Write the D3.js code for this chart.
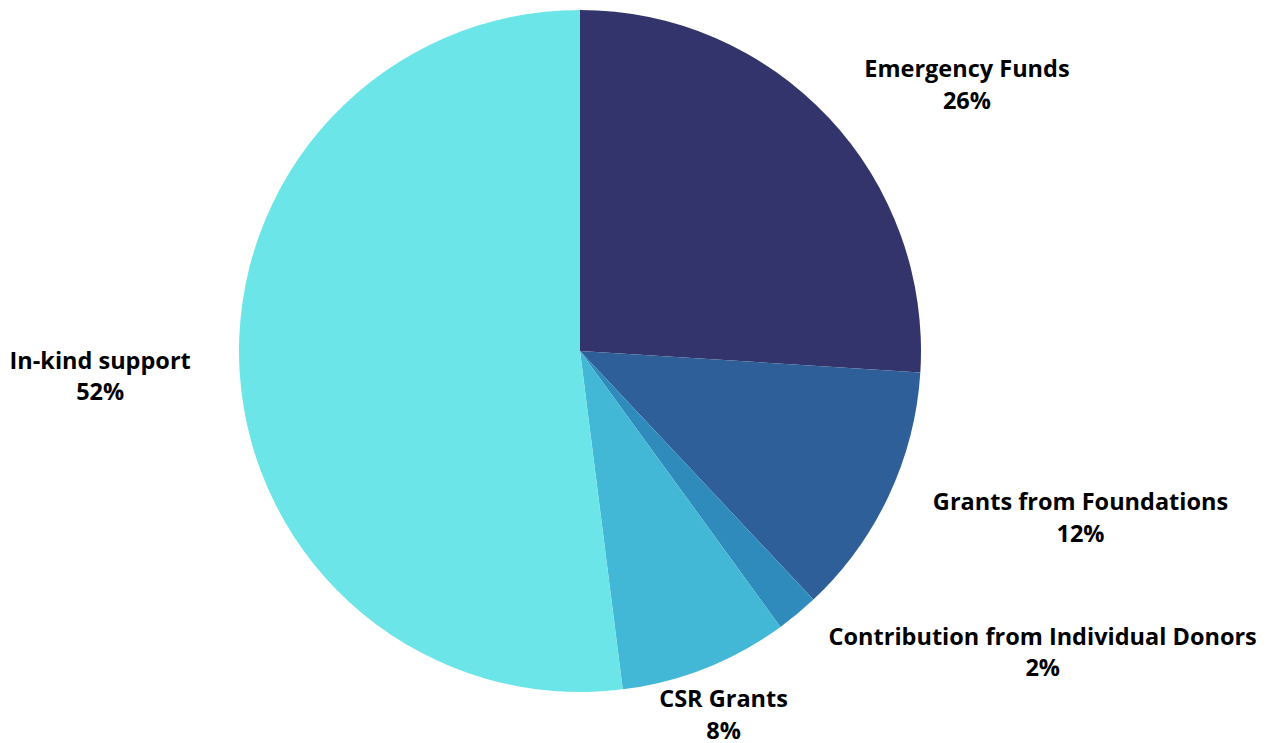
<!DOCTYPE html>
<html>
<head>
<meta charset="utf-8">
<script src="https://cdn.jsdelivr.net/npm/d3@7/dist/d3.min.js"></script>
<style>
  html, body { margin: 0; padding: 0; background: #ffffff; }
  svg { display: block; }
  text { font-family: "Open Sans", "Noto Sans", sans-serif; font-weight: 700; fill: #000; }
</style>
</head>
<body>
<svg id="chart" width="1268" height="743"></svg>
<script>
// Funding sources, clockwise from 12 o'clock
const categories = [
  "Emergency Funds",
  "Grants from Foundations",
  "Contribution from Individual Donors",
  "CSR Grants",
  "In-kind support"
];
const shares = [26, 12, 2, 8, 52];
const sliceColors = ["#32346b", "#2e5f98", "#2e8bbb", "#43b8d6", "#6be5e8"];

const width = 1268, height = 743;
const cx = 580, cy = 351, radius = 341;
const labelRadius = radius + 49;

const svg = d3.select("#chart");
const g = svg.append("g").attr("transform", `translate(${cx},${cy})`);

const rows = categories.map((c, i) => ({ name: c, value: shares[i], color: sliceColors[i] }));

const pie = d3.pie().value(d => d.value).sort(null);
const arc = d3.arc().innerRadius(0).outerRadius(radius);
const arcs = pie(rows);

g.selectAll("path.slice")
  .data(arcs)
  .enter().append("path")
  .attr("class", "slice")
  .attr("d", arc)
  .attr("fill", d => d.data.color);

// Labels sit just outside the rim along each slice's mid-angle
g.selectAll("text.label")
  .data(arcs)
  .enter().append("text")
  .attr("class", "label")
  .style("font-size", "23.5px")
  .each(function (d) {
    const a = (d.startAngle + d.endAngle) / 2;
    const s = Math.sin(a), c = Math.cos(a);
    const x = s * labelRadius, y = -c * labelRadius;
    const anchor = s > 0.5 ? "start" : (s < -0.5 ? "end" : "middle");
    const t = d3.select(this)
      .attr("text-anchor", "middle")
      .attr("x", x).attr("y", 0);
    t.append("tspan").attr("x", x).attr("dy", 0).text(d.data.name);
    t.append("tspan").attr("x", x).attr("dy", "1.36em").text(d.data.value + "%");
    // align the two-line block around the anchor point
    const bb = this.getBBox();
    let shift = 0;
    if (anchor === "start") shift = bb.width / 2;
    if (anchor === "end") shift = -bb.width / 2;
    const mid = bb.y + bb.height / 2;
    t.attr("transform", `translate(${shift},${y - mid})`);
  });
</script>
</body>
</html>
